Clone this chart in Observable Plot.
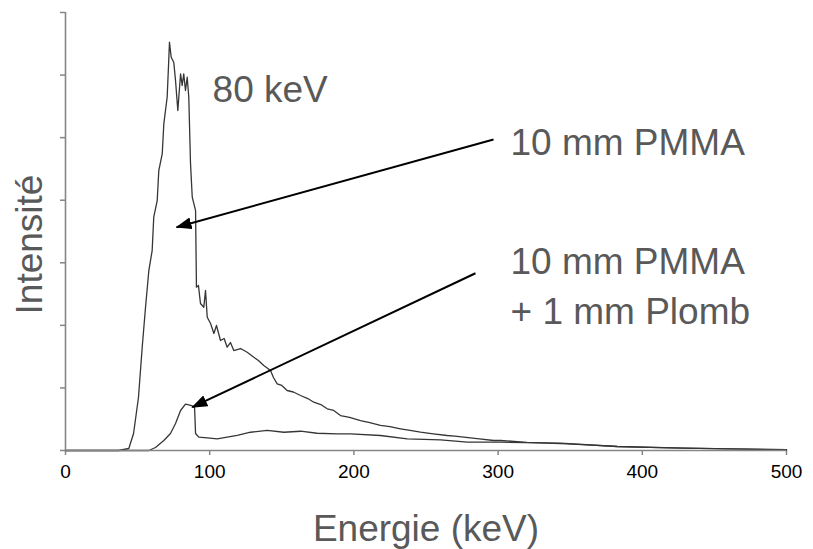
<!DOCTYPE html>
<html>
<head>
<meta charset="utf-8">
<script src="https://cdn.jsdelivr.net/npm/d3@7"></script>
<script src="https://cdn.jsdelivr.net/npm/@observablehq/plot@0.6"></script>
<style>
  html, body { margin: 0; padding: 0; background: #fff; }
</style>
</head>
<body>
<div id="chart"></div>
<script>
// Spectrum "10 mm PMMA" (energy in keV, intensity in arbitrary units)
const energyPMMA = [0, 36.8, 43.9, 47.2, 50.6, 53.2, 55.5, 57.8, 60.1, 61.2, 63.6, 64.7, 67.1, 68.2, 70.5, 71.6, 72.1, 73.3, 75.1, 76.3, 77.9, 79.8, 80.9, 82.0, 83.2, 84.4, 85.5, 86.7, 87.9, 90.2, 90.8, 92.2, 93.6, 95.9, 97.1, 98.3, 100.6, 102.9, 104.7, 107.5, 110.0, 112.1, 114.4, 116.7, 121.4, 126.0, 130.6, 133.8, 137.5, 142.2, 144.2, 146.8, 150.0, 153.7, 158.0, 163.0, 168.0, 172.2, 177.0, 181.5, 186.0, 190.7, 197.0, 204.6, 211.0, 218.4, 225.0, 232.3, 239.0, 246.2, 255.0, 264.7, 270.0, 276.2, 287.0, 297.0, 301.7, 320.0, 347.9, 365.0, 382.6, 405.0, 428.8, 460.0, 500];
const intensityPMMA = [0, 0, 32, 272, 847, 1651, 2290, 2876, 3196, 3728, 3995, 4474, 4746, 5225, 5646, 6232, 6525, 6285, 6200, 5913, 5433, 6020, 5833, 6020, 5753, 5965, 5646, 4586, 4048, 3835, 2610, 2637, 2349, 2290, 2557, 2130, 2029, 1870, 1998, 1758, 1790, 1651, 1726, 1598, 1630, 1571, 1491, 1438, 1358, 1278, 1167, 1066, 1040, 959, 935, 879, 830, 772, 735, 666, 640, 559, 530, 479, 445, 400, 380, 347, 320, 292, 265, 240, 230, 213, 185, 160, 160, 130, 107, 85, 64, 50, 37, 25, 12];

// Spectrum "10 mm PMMA + 1 mm Plomb"
const energyPb = [0, 57.8, 62.4, 68.2, 72.8, 76.3, 79.8, 83.2, 85.5, 87.9, 89.5, 90.2, 92.4, 98.3, 105.2, 112.1, 119.1, 128.3, 139.9, 151.4, 163.0, 174.5, 188.4, 197.6, 218.4, 237.0, 260.1, 278.6, 301.7, 343.3, 382.6, 428.6, 500];
const intensityPb = [0, 0, 48, 160, 272, 431, 639, 740, 730, 712, 692, 272, 213, 203, 187, 213, 240, 292, 320, 292, 308, 276, 267, 267, 240, 187, 171, 133, 133, 117, 64, 37, 12];

// Axis ticks
const xTicks = [0, 100, 200, 300, 400, 500];
const yTicks = [0, 1000, 2000, 3000, 4000, 5000, 6000, 7000];

// Annotation texts
const noteTexts = ["80 keV", "10 mm PMMA", "10 mm PMMA", "+ 1 mm Plomb"];
const noteEnergy = [102, 308.6, 308.6, 308.6];
const noteIntensity = [5762, 4919, 3004, 2205];

// Arrows (from text to curves)
const arrowFromEnergy = [296.8, 284.3];
const arrowFromIntensity = [4970, 2833];
const arrowToEnergy = [77.0, 87.9];
const arrowToIntensity = [3568, 692];

const xLabel = "Energie (keV)";
const yLabel = "Intensité";

const pmma = energyPMMA.map((e, i) => ({e, v: intensityPMMA[i]}));
const pb = energyPb.map((e, i) => ({e, v: intensityPb[i]}));
const notes = noteTexts.map((t, i) => ({t, e: noteEnergy[i], v: noteIntensity[i]}));
const arrows = arrowFromEnergy.map((e, i) => ({
  e1: e, v1: arrowFromIntensity[i], e2: arrowToEnergy[i], v2: arrowToIntensity[i]
}));

const filledHead = (color) => {
  const m = d3.create("svg:marker")
    .attr("viewBox", "0 -6 16 12")
    .attr("markerWidth", 16)
    .attr("markerHeight", 12)
    .attr("markerUnits", "userSpaceOnUse")
    .attr("refX", 15)
    .attr("refY", 0)
    .attr("orient", "auto");
  m.append("path").attr("d", "M0,-6L16,0L0,6Z").attr("fill", color).attr("stroke", "none");
  return m.node();
};

const axisGray = "#868686";
const textGray = "#595959";
const curveColor = "#363636";

const chart = Plot.plot({
  width: 813,
  height: 549,
  marginLeft: 65,
  marginRight: 27,
  marginTop: 12,
  marginBottom: 99,
  x: {domain: [0, 500]},
  y: {domain: [0, 7000]},
  style: {fontFamily: "'Liberation Sans', Arial, sans-serif", background: "white", overflow: "visible"},
  marks: [
    Plot.axisX(xTicks, {tickSize: 5, tickPadding: 9, fontSize: 19, stroke: axisGray, strokeWidth: 1.5, fill: "black", label: null}),
    Plot.axisY(yTicks, {tickSize: 5, tickFormat: () => "", stroke: axisGray, strokeWidth: 1.5, label: null}),
    Plot.line(pmma, {x: "e", y: "v", stroke: curveColor, strokeWidth: 1.3}),
    Plot.line(pb, {x: "e", y: "v", stroke: curveColor, strokeWidth: 1.3}),
    Plot.ruleY([0], {stroke: axisGray, strokeWidth: 1.6}),
    Plot.ruleX([0], {stroke: axisGray, strokeWidth: 1.6}),
    Plot.link(arrows, {x1: "e1", y1: "v1", x2: "e2", y2: "v2", stroke: "black", strokeWidth: 2, markerEnd: filledHead}),
    Plot.text(notes, {x: "e", y: "v", text: "t", textAnchor: "start", lineAnchor: "middle", fontSize: 37, fill: textGray}),
    Plot.text([xLabel], {frameAnchor: "bottom", textAnchor: "middle", lineAnchor: "middle", dx: 0, dy: 79, fontSize: 37, fill: textGray}),
    Plot.text([yLabel], {frameAnchor: "left", textAnchor: "middle", lineAnchor: "middle", rotate: -90, dx: -35, dy: 13, fontSize: 37, fill: textGray})
  ]
});
document.getElementById("chart").appendChild(chart);
</script>
</body>
</html>
